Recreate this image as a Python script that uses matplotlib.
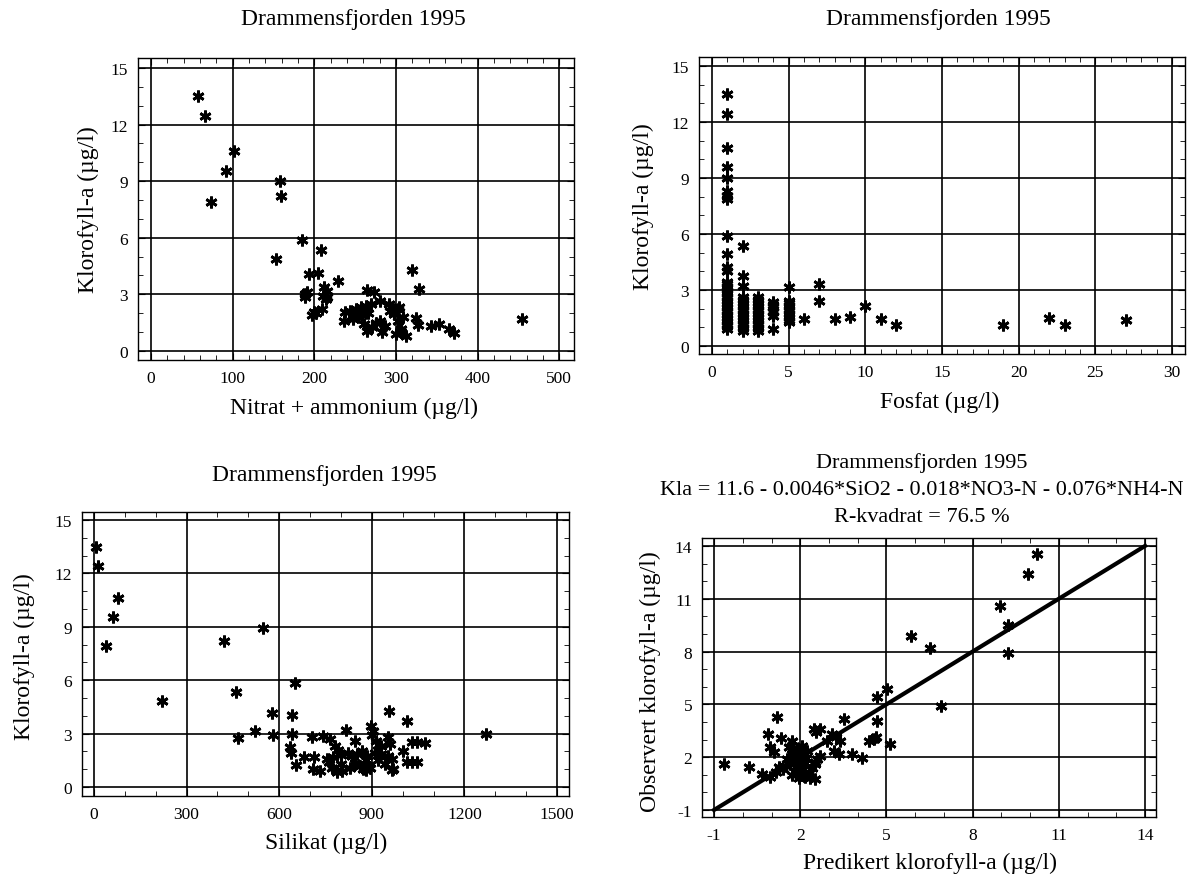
import numpy as np
import matplotlib
matplotlib.use('Agg')
from matplotlib import pyplot as plt
from matplotlib.ticker import MultipleLocator

plt.rcParams['font.family'] = 'Liberation Serif'

## Data ----------------------------------------------------------------------
title = 'Drammensfjorden 1995'
ylab = 'Klorofyll-a (µg/l)'

# Nitrat + ammonium vs klorofyll
nit = [58, 66, 73, 92, 102, 158, 159, 153, 185, 208, 193, 205, 229, 320, 328, 324, 327,
       343, 353, 365, 371, 454,
       188, 189, 191, 199, 197, 202, 209, 212, 216, 210, 214, 215,
       264, 273, 281, 291, 296, 304, 238, 244, 251, 257, 263, 269, 236, 247, 253, 261,
       265, 271, 281, 287, 283, 298, 302, 308, 300, 306, 312, 306, 250, 258, 266, 276,
       293, 303]
kla_nit = [13.5, 12.45, 7.9, 9.55, 10.6, 9.0, 8.2, 4.9, 5.9, 5.35, 4.1, 4.15, 3.7, 4.3, 3.3,
           1.75, 1.4, 1.3, 1.45, 1.15, 0.95, 1.67,
           3.0, 2.85, 3.15, 2.05, 1.9, 2.0, 2.23, 3.38, 3.2, 2.93, 2.76, 2.85,
           3.25, 3.1, 2.67, 2.49, 2.23, 2.32, 2.05, 2.14, 2.23, 2.32, 2.4, 2.49, 1.6, 1.7,
           1.79, 1.43, 1.08, 1.26, 1.6, 1.34, 0.99, 1.96, 1.6, 1.79, 0.9, 0.99, 0.81, 1.17,
           2.0, 1.9, 2.0, 1.5, 2.1, 2.2]

# Fosfat vs klorofyll
fos = [1]*30 + [2]*16 + [3]*13 + [4]*7 + [5]*10 + [6, 7, 7, 8, 9, 10, 11, 12, 19, 22, 23, 27]
kla_fos = [13.5, 12.43, 10.59, 9.57, 8.98, 8.32, 8.05, 7.87, 5.91, 4.93, 4.21, 4.03, 3.45,
           3.3, 3.15, 3.0, 2.85, 2.7, 2.55, 2.4, 2.25, 2.1, 1.95, 1.8, 1.65, 1.5, 1.35, 1.2,
           1.05, 0.9,
           5.37, 3.77, 3.23, 2.6, 2.45, 2.3, 2.15, 2.0, 1.85, 1.7, 1.55, 1.4, 1.25, 1.1,
           0.95, 0.8,
           2.6, 2.45, 2.3, 2.15, 2.0, 1.85, 1.7, 1.55, 1.4, 1.25, 1.1, 0.95, 0.8,
           2.34, 2.2, 2.07, 1.9, 1.8, 1.63, 0.91,
           3.14, 2.43, 2.3, 2.15, 2.0, 1.85, 1.7, 1.55, 1.4, 1.27,
           1.45, 3.32, 2.43, 1.45, 1.54, 2.16, 1.45, 1.12, 1.12, 1.48, 1.12, 1.41]

# Silikat vs klorofyll
sil = [7, 13, 79, 63, 40, 219, 422, 547, 460, 652, 576, 640, 468, 520, 581, 640, 635, 637,
       654, 681, 713, 705, 710, 732, 743, 765, 754, 775, 780, 790, 799, 770, 786, 802, 816,
       845, 822, 836, 851, 829, 845, 862, 868, 884, 870, 887, 899, 905, 915, 920, 910, 953,
       959, 931, 953, 920, 942, 964, 970, 957, 1013, 1000, 1029, 1045, 1013, 1029, 964,
       1271, 895, 880, 900, 930, 1046, 1071, 800, 760, 880]
kla_sil = [13.5, 12.43, 10.6, 9.53, 7.9, 4.85, 8.18, 8.95, 5.32, 5.84, 4.14, 4.04, 2.73,
           3.16, 2.92, 2.96, 2.23, 1.9, 1.24, 1.67, 1.67, 2.83, 1.01, 0.92, 2.88, 2.7, 1.57,
           1.67, 2.3, 2.1, 1.8, 1.1, 0.82, 0.92, 3.22, 2.57, 1.9, 1.75, 1.85, 1.1, 1.35, 1.2,
           2.0, 1.72, 1.0, 1.2, 3.44, 3.16, 2.6, 2.1, 1.9, 2.79, 2.41, 1.85, 1.75, 1.5, 1.3,
           1.6, 1.0, 4.29, 3.69, 2.04, 2.51, 2.51, 1.39, 1.39, 0.98, 2.98, 1.05, 0.97, 2.9,
           2.3, 1.39, 2.45, 1.3, 1.4, 1.5]

# Predikert vs observert klorofyll
pred = [10.25, 9.93, 8.94, 9.24, 9.24, 5.84, 6.5, 6.9, 5.03, 4.68, 4.68, 5.14, 4.62, 4.56,
        4.38, 3.51, 4.15, 3.81, 3.34, 3.17, 3.4, 3.23, 3.11, 2.94, 2.7, 2.53, 2.47, 2.59,
        2.7, 2.5, 2.5, 1.2, 0.87, 1.34, 0.96, 1.08, -0.64, 0.21, 0.67, 0.96, 1.14, 1.25,
        1.72, 1.54, 1.72, 1.89, 2.07, 2.24, 1.5, 1.65, 1.8, 1.95, 2.15, 1.7, 1.9, 2.1, 2.3,
        2.4, 1.95, 2.15, 2.35, 2.5, 2.0, 1.85, 2.05, 1.6, 1.4, 2.2, 1.8, 2.0]
obs = [13.55, 12.41, 10.57, 9.51, 7.9, 8.9, 8.19, 4.89, 5.88, 5.4, 4.07, 2.75, 3.13, 3.03,
       2.94, 4.17, 1.94, 2.18, 2.18, 2.37, 2.94, 3.13, 3.32, 2.94, 3.6, 3.41, 3.6, 1.9,
       2.09, 1.6, 1.75, 4.27, 3.32, 3.07, 2.56, 2.28, 1.61, 1.43, 1.05, 0.86, 1.14, 1.43,
       2.94, 1.9, 2.18, 2.47, 2.65, 2.37, 1.5, 1.6, 1.7, 1.55, 1.65, 1.0, 1.2, 1.3, 1.1,
       1.4, 0.8, 0.85, 0.8, 0.75, 2.0, 1.85, 2.2, 2.6, 1.3, 1.95, 2.35, 1.0]

eq_text = ('Drammensfjorden 1995\n'
           'Kla = 11.6 - 0.0046*SiO2 - 0.018*NO3-N - 0.076*NH4-N\n'
           'R-kvadrat = 76.5 %')

## Figure --------------------------------------------------------------------
W, H = 1189, 878
fig = plt.figure(figsize=(W/100, H/100), dpi=100)

def add_box(x0, y0, x1, y1):
    # pixel box (top-left origin) -> axes
    return fig.add_axes([x0/W, 1 - y1/H, (x1 - x0)/W, (y1 - y0)/H])

def ftext(x, y, s, **kw):
    fig.text(x/W, 1 - y/H, s, ha='center', va='center', fontsize=17, **kw)

def style(ax, xlim, ylim, xmaj, xmin, ymaj, ymin):
    ax.set_xlim(*xlim)
    ax.set_ylim(*ylim)
    ax.xaxis.set_major_locator(MultipleLocator(xmaj))
    ax.xaxis.set_minor_locator(MultipleLocator(xmin))
    ax.yaxis.set_major_locator(MultipleLocator(ymaj))
    ax.yaxis.set_minor_locator(MultipleLocator(ymin))
    ax.grid(True, which='major', color='black', lw=1.2)
    ax.tick_params(which='both', direction='in', top=True, right=True,
                   labelsize=12.5, pad=7)
    ax.tick_params(which='major', length=5)
    ax.tick_params(which='minor', length=3.5)
    for s in ax.spines.values():
        s.set_linewidth(1.0)

mk = dict(ls='none', marker=(6, 2, 0), ms=8.5, mew=2.0, color='black')

# top left
ax1 = add_box(138, 59, 574, 361)
ax1.plot(nit, kla_nit, **mk)
style(ax1, (-16, 518), (-0.48, 15.53), 100, 20, 3, 1)
ftext(353, 20, title)
ftext(354, 408, 'Nitrat + ammonium (µg/l)')
ftext(88, 210, ylab, rotation=90)

# top right
ax2 = add_box(699, 58, 1185, 355)
ax2.plot(fos, kla_fos, **mk)
style(ax2, (-0.85, 30.85), (-0.43, 15.48), 5, 1, 3, 1)
ftext(938, 20, title)
ftext(940, 402, 'Fosfat (µg/l)')
ftext(643, 207, ylab, rotation=90)

# bottom left
ax3 = add_box(82, 513, 569, 797)
ax3.plot(sil, kla_sil, **mk)
style(ax3, (-39, 1539), (-0.5, 15.45), 300, 100, 3, 1)
ftext(324, 476, title)
ftext(326, 843, 'Silikat (µg/l)')
ftext(24, 657, ylab, rotation=90)

# bottom right
ax4 = add_box(702, 539, 1156, 818)
ax4.plot([-1, 14], [-1, 14], color='black', lw=3)
ax4.plot(pred, obs, **mk)
style(ax4, (-1.42, 14.38), (-1.4, 14.45), 3, 1, 3, 1)
ax4.set_xticks([-1, 2, 5, 8, 11, 14])
ax4.set_yticks([-1, 2, 5, 8, 11, 14])
ax4.xaxis.set_major_formatter(matplotlib.ticker.FuncFormatter(lambda v, p: f'{int(v)}'))
ax4.yaxis.set_major_formatter(matplotlib.ticker.FuncFormatter(lambda v, p: f'{int(v)}'))
fig.text(922/W, 1 - 490/H, eq_text, ha='center', va='center', fontsize=16,
         linespacing=1.55)
ftext(930, 863, 'Predikert klorofyll-a (µg/l)')
ftext(650, 682, 'Observert klorofyll-a (µg/l)', rotation=90)

plt.savefig('out.png', dpi=100)
